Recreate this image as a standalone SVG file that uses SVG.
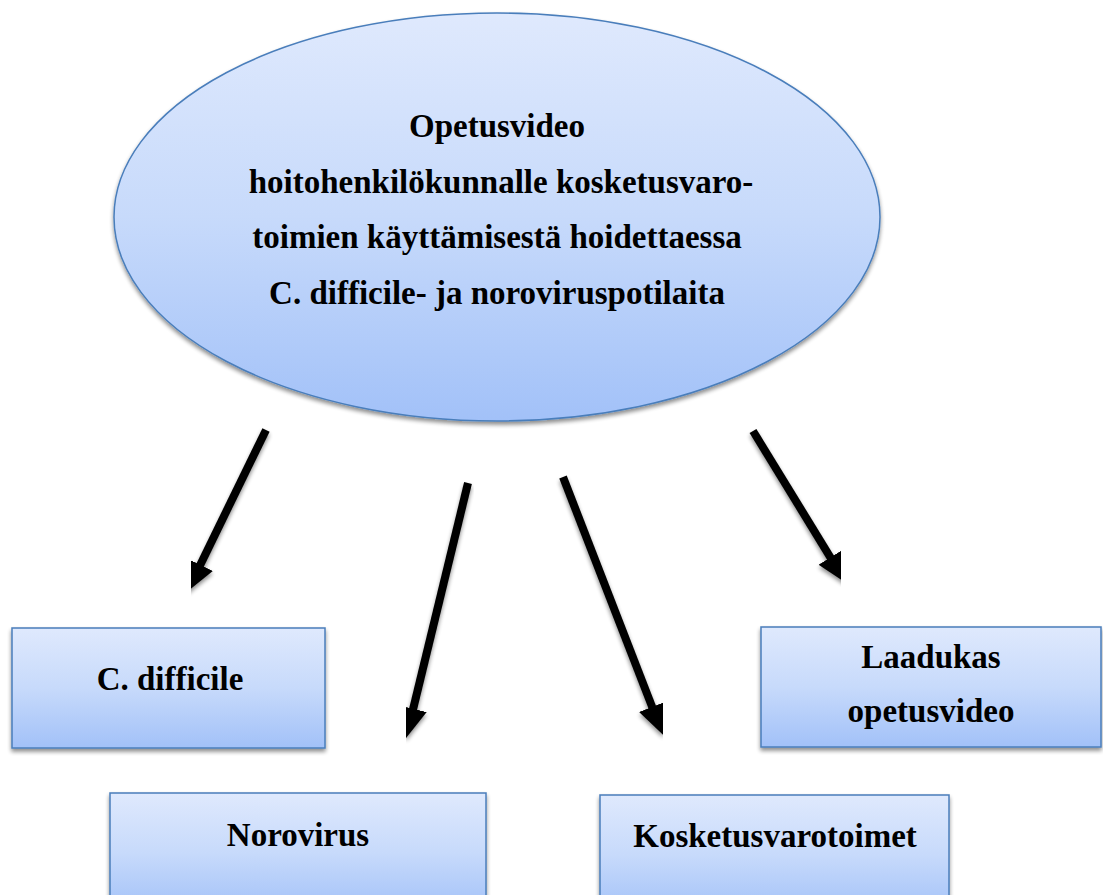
<svg xmlns="http://www.w3.org/2000/svg" width="1103" height="895" viewBox="0 0 1103 895">
<defs>
<linearGradient id="gBox" x1="0" y1="0" x2="0" y2="1">
<stop offset="0" stop-color="#dfe9fd"/>
<stop offset="0.5" stop-color="#c7dafb"/>
<stop offset="1" stop-color="#a2c1f8"/>
</linearGradient>
<filter id="shadow" x="-10%" y="-10%" width="120%" height="130%">
<feGaussianBlur in="SourceAlpha" stdDeviation="2"/>
<feOffset dx="0" dy="3" result="b"/>
<feComponentTransfer><feFuncA type="linear" slope="0.45"/></feComponentTransfer>
<feMerge><feMergeNode/><feMergeNode in="SourceGraphic"/></feMerge>
</filter>
<marker id="head" markerUnits="userSpaceOnUse" markerWidth="32" markerHeight="28" viewBox="0 0 32 28" refX="4" refY="14" orient="auto">
<path d="M0,0 L30,14 L0,28 z" fill="#000"/>
</marker>
</defs>
<style>
.shape{fill:url(#gBox);stroke:#4a7ebb;stroke-width:1.5;filter:url(#shadow)}
.t{font-family:"Liberation Serif","Times New Roman",serif;font-weight:bold;font-size:33px;fill:#000;text-anchor:middle}
.arr{stroke:#000;stroke-width:8;fill:none;marker-end:url(#head);filter:url(#shadow)}
</style>
<rect width="1103" height="895" fill="#fff"/>
<g id="main">
<ellipse class="shape" cx="497" cy="217" rx="383" ry="204"/>
<text class="t" x="497" y="137">Opetusvideo</text>
<text class="t" x="501" y="193">hoitohenkilökunnalle kosketusvaro-</text>
<text class="t" x="497" y="248">toimien käyttämisestä hoidettaessa</text>
<text class="t" x="497" y="304">C. difficile- ja noroviruspotilaita</text>
</g>
<g id="connectors">
<line class="arr" x1="266" y1="430" x2="198.5" y2="568.4"/>
<line class="arr" x1="468" y1="483" x2="412.2" y2="712.7"/>
<line class="arr" x1="563" y1="477" x2="653.6" y2="710.6"/>
<line class="arr" x1="753" y1="431" x2="832.5" y2="560.8"/>
</g>
<g id="cdifficile">
<rect class="shape" x="12" y="628" width="313" height="120"/>
<text class="t" x="170" y="690">C. difficile</text>
</g>
<g id="norovirus">
<rect class="shape" x="110" y="793" width="376" height="120"/>
<text class="t" x="298" y="846">Norovirus</text>
</g>
<g id="kosketusvarotoimet">
<rect class="shape" x="600" y="795" width="349" height="120"/>
<text class="t" x="775" y="847">Kosketusvarotoimet</text>
</g>
<g id="laadukas">
<rect class="shape" x="761" y="627" width="340" height="120"/>
<text class="t" x="931" y="668">Laadukas</text>
<text class="t" x="931" y="722">opetusvideo</text>
</g>
</svg>
